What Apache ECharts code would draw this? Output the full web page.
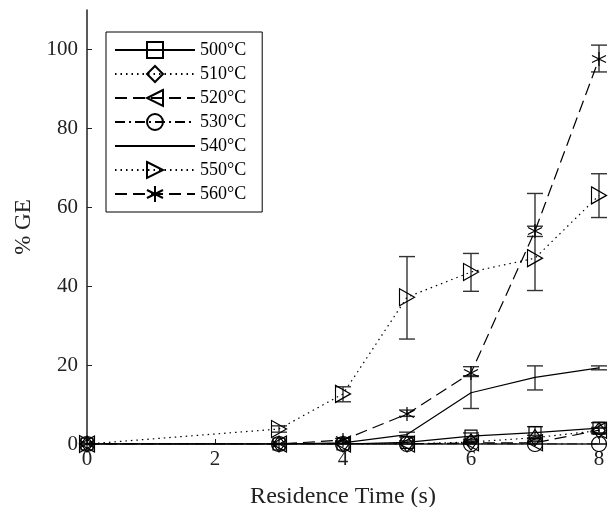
<!DOCTYPE html>
<html>
<head>
<meta charset="UTF-8">
<script src="https://cdn.jsdelivr.net/npm/echarts@6/dist/echarts.min.js"></script>
<style>
html, body { margin: 0; padding: 0; background: #fff; }
#chart { width: 608px; height: 507px; }
</style>
</head>
<body>
<div id="chart"></div>
<script>
// residence time (s)
var times = [0, 3, 4, 5, 6, 7, 8];
var temps = ['500°C', '510°C', '520°C', '530°C', '540°C', '550°C', '560°C'];

// % GE means
var ge500 = [0, 0, 0, 0.4, 2, 2.9, 4];
var ge510 = [0, 0, 0, 0, 0.5, 1.6, 3.4];
var ge520 = [0, 0, 0, 0, 0.3, 0.3, 3.5];
var ge530 = [0, 0, 0, 0, 0, 0, 0];
var ge540 = [0, 0, 0.3, 2.4, 13, 16.9, 19.3];
var ge550 = [0, 3.8, 12.7, 37.2, 43.6, 47.1, 63];
var ge560 = [0, 0, 1, 7.6, 18, 54, 97.6];

// error bar lows / highs
var lo500 = [0, 0, 0, 0, 1.2, 1.5, 2.6];
var hi500 = [0, 0, 0, 0.8, 2.8, 4.4, 5.4];
var lo510 = [0, 0, 0, 0, 0, 1, 2.8];
var hi510 = [0, 0, 0, 0, 1, 2.2, 4];
var lo520 = [0, 0, 0, 0, 0, 0, 2.8];
var hi520 = [0, 0, 0, 0, 0.6, 0.6, 4.2];
var lo530 = [0, 0, 0, 0, 0, 0, 0];
var hi530 = [0, 0, 0, 0, 0, 0, 0];
var lo540 = [0, 0, 0, 1.8, 9, 13.7, 18.8];
var hi540 = [0, 0, 0.8, 3, 17.3, 19.8, 19.8];
var lo550 = [0, 3, 10.7, 26.6, 38.7, 38.9, 57.4];
var hi550 = [0, 4.6, 14.5, 47.5, 48.3, 63.5, 68.5];
var lo560 = [0, 0, 0.6, 7, 17.1, 52.6, 94.3];
var hi560 = [0, 0, 1.4, 8.6, 19.6, 55.2, 101.1];

var means = [ge500, ge510, ge520, ge530, ge540, ge550, ge560];
var lows = [lo500, lo510, lo520, lo530, lo540, lo550, lo560];
var highs = [hi500, hi510, hi520, hi530, hi540, hi550, hi560];

var DOT = [1.5, 4];
var DASH = [12, 6];
var DASHDOT = [10, 4, 2, 4];
var looks = [
  { dash: 'solid', symbol: 'rect', size: 12, edge: '#000' },
  { dash: DOT, symbol: 'diamond', size: [12, 16], edge: '#000' },
  { dash: DASH, symbol: 'path://M10,0L0,5L10,10Z', size: [15, 16], edge: '#000' },
  { dash: DASHDOT, symbol: 'circle', size: 15, edge: '#000' },
  { dash: 'solid', symbol: 'circle', size: 1, edge: 'rgba(0,0,0,0)' },
  { dash: DOT, symbol: 'path://M0,0L10,5L0,10Z', size: [15, 17], edge: '#000' },
  { dash: DASH, symbol: 'path://M5,0L5,10M0.7,2.5L9.3,7.5M0.7,7.5L9.3,2.5', size: 14, edge: '#000' }
];

function errRender(params, api) {
  var x = api.value(0);
  var a = api.coord([x, api.value(1)]);
  var b = api.coord([x, api.value(2)]);
  var w = 8;
  var st = { stroke: '#333', lineWidth: 1.4 };
  return {
    type: 'group',
    children: [
      { type: 'line', shape: { x1: a[0], y1: a[1], x2: b[0], y2: b[1] }, style: st },
      { type: 'line', shape: { x1: a[0] - w, y1: a[1], x2: a[0] + w, y2: a[1] }, style: st },
      { type: 'line', shape: { x1: b[0] - w, y1: b[1], x2: b[0] + w, y2: b[1] }, style: st }
    ]
  };
}

var series = [];
temps.forEach(function (name, k) {
  series.push({
    name: 'err' + k,
    type: 'custom',
    renderItem: errRender,
    encode: { x: 0, y: [1, 2] },
    data: times.map(function (t, i) { return [t, lows[k][i], highs[k][i]]; }),
    z: 2
  });
});
temps.forEach(function (name, k) {
  var lk = looks[k];
  series.push({
    name: name,
    type: 'line',
    data: times.map(function (t, i) { return [t, means[k][i]]; }),
    symbol: lk.symbol,
    symbolSize: lk.size,
    showAllSymbol: true,
    lineStyle: { color: '#000', width: 1.2, type: lk.dash },
    itemStyle: { color: 'rgba(0,0,0,0)', borderColor: lk.edge, borderWidth: 1.2 },
    emphasis: { disabled: true },
    z: 3
  });
});

var chart = echarts.init(document.getElementById('chart'));
var font = 'Liberation Serif';
chart.setOption({
  animation: false,
  textStyle: { fontFamily: font },
  grid: { left: 87, right: 9, top: 10, bottom: 63, outerBoundsMode: 'none', containLabel: false },
  legend: {
    data: temps,
    orient: 'vertical',
    left: 106,
    top: 32,
    backgroundColor: '#fff',
    borderColor: '#000',
    borderWidth: 1,
    borderRadius: 0,
    padding: [9, 16, 9, 8],
    itemWidth: 80,
    itemHeight: 20,
    itemGap: 6,
    textStyle: { fontFamily: font, fontSize: 18, color: '#000' }
  },
  xAxis: {
    type: 'value',
    min: 0,
    max: 8,
    interval: 2,
    name: 'Residence Time (s)',
    nameLocation: 'middle',
    nameGap: 41,
    nameTextStyle: { fontFamily: font, fontSize: 24, color: '#222' },
    axisLine: { show: true, lineStyle: { color: '#222', width: 1.5 } },
    axisTick: { show: true, inside: true, length: 5, lineStyle: { color: '#222' } },
    axisLabel: { fontFamily: font, fontSize: 21, color: '#222', margin: 5 },
    splitLine: { show: false }
  },
  yAxis: {
    type: 'value',
    min: 0,
    max: 110,
    interval: 20,
    name: '% GE',
    nameLocation: 'middle',
    nameGap: 52,
    nameTextStyle: { fontFamily: font, fontSize: 23, color: '#222' },
    axisLine: { show: true, lineStyle: { color: '#222', width: 1.5 } },
    axisTick: { show: true, inside: true, length: 5, lineStyle: { color: '#222' } },
    axisLabel: { fontFamily: font, fontSize: 21, color: '#222', margin: 9, showMaxLabel: false },
    splitLine: { show: false }
  },
  series: series
});
</script>
</body>
</html>
